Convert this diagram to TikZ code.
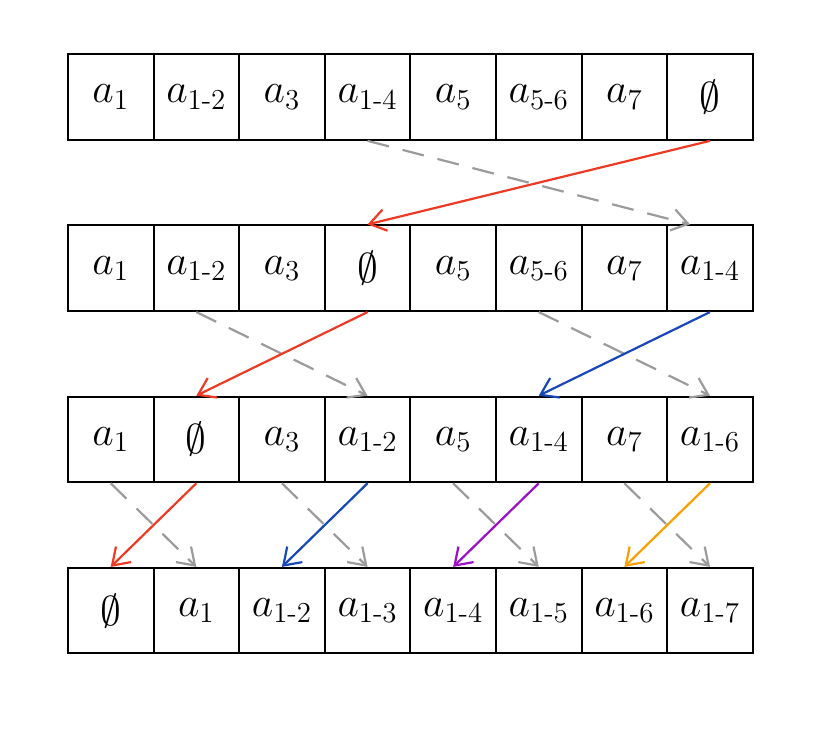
\documentclass[tikz,border=0pt]{standalone}
\usepackage{amsmath,amssymb}
\usetikzlibrary{arrows.meta}
\definecolor{redarr}{RGB}{238,58,36}
\definecolor{bluearr}{RGB}{26,71,184}
\definecolor{purplearr}{RGB}{155,16,200}
\definecolor{orangearr}{RGB}{247,160,0}
\definecolor{grayarr}{RGB}{155,155,155}
\newcommand{\hy}{\text{-}}
\begin{document}
\begin{tikzpicture}
  [cell/.style={draw,line width=1pt,minimum width=1.5cm,minimum height=1.5cm,inner sep=0pt,font=\huge},
   swap/.style={draw=grayarr,line width=1.1pt,dash pattern=on 11pt off 7pt,-{Straight Barb[length=2.8mm,width=3.8mm]}},
   move/.style={line width=1.1pt,-{Straight Barb[length=2.8mm,width=3.8mm]}}]
  \useasboundingbox (-1.19,1.70) rectangle (13.23,-11.11);

  % Fila 1
  \foreach \c/\t in {1/{$a_1$},2/{$a_{1\hy2}$},3/{$a_3$},4/{$a_{1\hy4}$},5/{$a_5$},6/{$a_{5\hy6}$},7/{$a_7$},8/{$\emptyset$}}
    \node[cell] (r1c\c) at (1.5*\c-0.75,0) {\t};
  % Fila 2
  \foreach \c/\t in {1/{$a_1$},2/{$a_{1\hy2}$},3/{$a_3$},4/{$\emptyset$},5/{$a_5$},6/{$a_{5\hy6}$},7/{$a_7$},8/{$a_{1\hy4}$}}
    \node[cell] (r2c\c) at (1.5*\c-0.75,-3) {\t};
  % Fila 3
  \foreach \c/\t in {1/{$a_1$},2/{$\emptyset$},3/{$a_3$},4/{$a_{1\hy2}$},5/{$a_5$},6/{$a_{1\hy4}$},7/{$a_7$},8/{$a_{1\hy6}$}}
    \node[cell] (r3c\c) at (1.5*\c-0.75,-6) {\t};
  % Fila 4
  \foreach \c/\t in {1/{$\emptyset$},2/{$a_1$},3/{$a_{1\hy2}$},4/{$a_{1\hy3}$},5/{$a_{1\hy4}$},6/{$a_{1\hy5}$},7/{$a_{1\hy6}$},8/{$a_{1\hy7}$}}
    \node[cell] (r4c\c) at (1.5*\c-0.75,-9) {\t};

  % Fila 1 -> Fila 2
  \draw[swap] (r1c4.south) -- ([xshift=-0.35cm]r2c8.north);
  \draw[move,redarr] (r1c8.south) -- (r2c4.north);

  % Fila 2 -> Fila 3
  \foreach \from/\to in {2/4, 6/8}
    \draw[swap] (r2c\from.south) -- (r3c\to.north);
  \draw[move,redarr] (r2c4.south) -- (r3c2.north);
  \draw[move,bluearr] (r2c8.south) -- (r3c6.north);

  % Fila 3 -> Fila 4
  \foreach \from/\to in {1/2, 3/4, 5/6, 7/8}
    \draw[swap] (r3c\from.south) -- (r4c\to.north);
  \foreach \from/\to/\col in {2/1/redarr, 4/3/bluearr, 6/5/purplearr, 8/7/orangearr}
    \draw[move,\col] (r3c\from.south) -- (r4c\to.north);
\end{tikzpicture}
\end{document}
